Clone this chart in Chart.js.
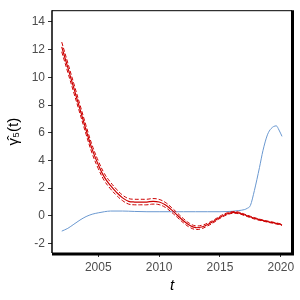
<!DOCTYPE html>
<html>
<head>
<meta charset="utf-8">
<script src="https://cdn.jsdelivr.net/npm/chart.js@4"></script>
<style>
  html, body { margin: 0; padding: 0; background: #ffffff; }
  #wrap { width: 300px; height: 300px; }
</style>
</head>
<body>
<div id="wrap"><canvas id="chart" width="300" height="300"></canvas></div>
<script>
const redT = [2002, 2002.5, 2003, 2003.5, 2004, 2004.5, 2005, 2005.5, 2006, 2006.5,
  2007, 2007.5, 2008, 2008.5, 2009, 2009.5, 2010, 2010.5, 2011, 2011.5,
  2012, 2012.5, 2013, 2013.5, 2014, 2014.5, 2015, 2015.5, 2016, 2016.5,
  2017, 2017.5, 2018, 2018.5, 2019, 2019.5, 2020, 2020.1];
const redMid = [12.2, 10.7, 9.2, 7.7, 6.2, 4.8, 3.7, 2.8, 2.2, 1.7,
  1.3, 1.05, 1.0, 1.0, 1.0, 1.05, 1.0, 0.8, 0.45, 0.05,
  -0.35, -0.68, -0.85, -0.8, -0.62, -0.38, -0.1, 0.12, 0.24, 0.22,
  0.08, -0.08, -0.22, -0.33, -0.43, -0.52, -0.62, -0.65];
const redHalf = [0.35, 0.34, 0.33, 0.32, 0.31, 0.3, 0.28, 0.26, 0.24, 0.22,
  0.2, 0.2, 0.2, 0.2, 0.2, 0.2, 0.19, 0.18, 0.17, 0.16,
  0.15, 0.14, 0.13, 0.12, 0.1, 0.09, 0.08, 0.07, 0.06, 0.06,
  0.05, 0.05, 0.05, 0.04, 0.04, 0.04, 0.04, 0.04];

const blueT = [2002, 2002.5, 2003, 2003.5, 2004, 2004.5, 2005, 2005.5, 2006, 2007,
  2008, 2009, 2010, 2011, 2012, 2013, 2014, 2015, 2015.5, 2016,
  2016.5, 2017, 2017.25, 2017.5, 2017.83, 2018.25, 2018.53, 2018.9, 2019.2, 2019.63,
  2019.85, 2020.1];
const blueY = [-1.1, -0.9, -0.6, -0.3, -0.05, 0.12, 0.22, 0.3, 0.35, 0.35,
  0.32, 0.3, 0.3, 0.3, 0.3, 0.3, 0.3, 0.3, 0.31, 0.33,
  0.38, 0.45, 0.55, 0.75, 1.83, 3.5, 4.7, 5.85, 6.3, 6.5,
  6.2, 5.74];

const xTicks = [2005, 2010, 2015, 2020];
const yTicks = [-2, 0, 2, 4, 6, 8, 10, 12, 14];

const redColor = "#CC0000";
const blueColor = "#6A98D0";

const toPoints = (xs, ys) => xs.map((x, i) => ({ x: x, y: ys[i] }));

// panel box: thin top/left, heavier right/bottom like the source image
const framePlugin = {
  id: "frame",
  afterDraw(chart) {
    const a = chart.chartArea;
    const c = chart.ctx;
    c.save();
    c.strokeStyle = "#000000";
    c.lineWidth = 1;
    c.beginPath();
    c.moveTo(a.left, a.top + 0.5);
    c.lineTo(a.right, a.top + 0.5);
    c.stroke();
    c.lineWidth = 3;
    c.beginPath();
    c.moveTo(a.right + 0.5, a.top);
    c.lineTo(a.right + 0.5, a.bottom + 1.5);
    c.moveTo(a.left, a.bottom + 1);
    c.lineTo(a.right + 2, a.bottom + 1);
    c.stroke();
    c.lineWidth = 1.5;
    c.beginPath();
    c.moveTo(a.left, a.top);
    c.lineTo(a.left, a.bottom);
    c.stroke();
    c.restore();
  },
};

const ctx = document.getElementById("chart").getContext("2d");

new Chart(ctx, {
  type: "line",
  data: {
    datasets: [
      {
        data: toPoints(redT, redMid),
        borderColor: redColor,
        borderWidth: 1.2,
        pointRadius: 0,
        tension: 0.4,
      },
      {
        data: toPoints(redT, redMid.map((v, i) => v + redHalf[i])),
        borderColor: redColor,
        borderWidth: 1,
        borderDash: [4, 2],
        pointRadius: 0,
        tension: 0.4,
      },
      {
        data: toPoints(redT, redMid.map((v, i) => v - redHalf[i])),
        borderColor: redColor,
        borderWidth: 1,
        borderDash: [4, 2],
        pointRadius: 0,
        tension: 0.4,
      },
      {
        data: toPoints(blueT, blueY),
        borderColor: blueColor,
        borderWidth: 1,
        pointRadius: 0,
        cubicInterpolationMode: "monotone",
      },
    ],
  },
  options: {
    responsive: false,
    animation: false,
    layout: { padding: { top: 7, right: 8, left: 0, bottom: 0 } },
    plugins: { legend: { display: false }, tooltip: { enabled: false } },
    scales: {
      x: {
        type: "linear",
        min: 2001.2,
        max: 2020.92,
        afterBuildTicks: (scale) => {
          scale.ticks = xTicks.map((v) => ({ value: v }));
        },
        afterFit: (scale) => {
          scale.height = 47;
        },
        grid: {
          drawOnChartArea: false,
          drawTicks: true,
          tickLength: 4,
          tickColor: "#333333",
        },
        border: { display: false },
        ticks: {
          color: "#4D4D4D",
          font: { family: "Liberation Sans", size: 12 },
          padding: 3,
          maxRotation: 0,
          callback: (v) => String(v),
        },
        title: {
          display: true,
          text: "t",
          color: "#000000",
          font: { family: "Liberation Sans", size: 15, style: "italic" },
          padding: { top: 0, bottom: 5 },
        },
      },
      y: {
        min: -2.68,
        max: 14.85,
        afterBuildTicks: (scale) => {
          scale.ticks = yTicks.map((v) => ({ value: v }));
        },
        afterFit: (scale) => {
          scale.width = 52;
        },
        grid: {
          drawOnChartArea: false,
          drawTicks: true,
          tickLength: 4,
          tickColor: "#333333",
        },
        border: { display: false },
        ticks: {
          color: "#4D4D4D",
          font: { family: "Liberation Sans", size: 12 },
          padding: 3,
          callback: (v) => String(v),
        },
        title: {
          display: true,
          text: "γ\u0302\u2085(t)",
          color: "#000000",
          font: { family: "Liberation Sans", size: 15 },
          padding: { top: 5, bottom: 2 },
        },
      },
    },
  },
  plugins: [framePlugin],
});
</script>
</body>
</html>
